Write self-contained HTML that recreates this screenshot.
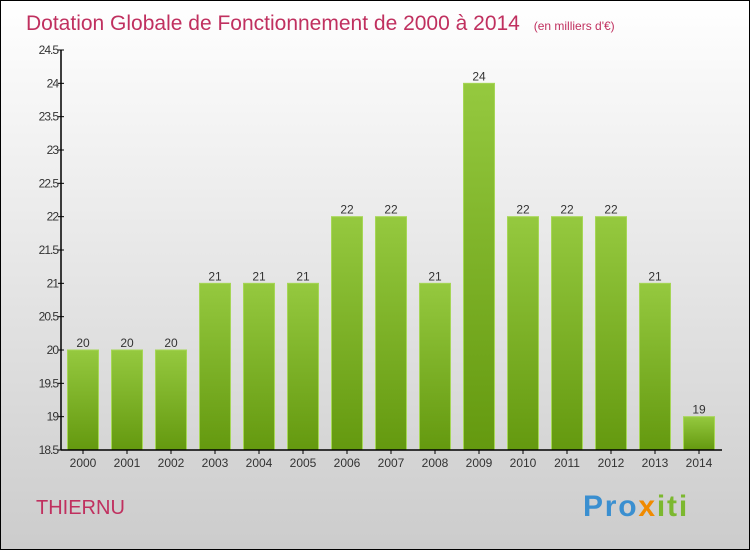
<!DOCTYPE html>
<html><head><meta charset="utf-8"><style>
html,body{margin:0;padding:0}
svg{display:block;font-family:"Liberation Sans",sans-serif}
</style></head><body>
<svg id="c" width="750" height="550" xmlns="http://www.w3.org/2000/svg">
<defs>
<linearGradient id="bg" x1="0" y1="0" x2="0" y2="1"><stop offset="0" stop-color="#ffffff"/><stop offset="1" stop-color="#cccccc"/></linearGradient>
<linearGradient id="bar" x1="0" y1="0" x2="0" y2="1"><stop offset="0" stop-color="#95c93f"/><stop offset="1" stop-color="#64990f"/></linearGradient>
</defs>
<rect x="0.5" y="0.5" width="749" height="549" fill="url(#bg)" stroke="#000"/>
<text x="26" y="30" font-size="21" fill="#c0305f">Dotation Globale de Fonctionnement de 2000 à 2014 <tspan font-size="12" dx="8">(en milliers d'€)</tspan></text>
<g id="bars"></g>
<g id="axes"></g>
<text x="36" y="514" font-size="20" fill="#c0305f">THIERNU</text>
<g font-size="30" font-weight="bold">
<text x="583" y="516" fill="#3a8fd0" letter-spacing="1.8">Pro<tspan fill="#f08a00">x</tspan><tspan fill="#7cb82f">iti</tspan></text>
</g>
</svg>
<script>
const categories=["2000","2001","2002","2003","2004","2005","2006","2007","2008","2009","2010","2011","2012","2013","2014"];
const values=[20,20,20,21,21,21,22,22,21,24,22,22,22,21,19];
const labels=["20","20","20","21","21","21","22","22","21","24","22","22","22","21","19"];
const yTicks=[18.5,19,19.5,20,20.5,21,21.5,22,22.5,23,23.5,24,24.5];
const NS="http://www.w3.org/2000/svg";
const y0=450,y1=50,vmin=18.5,vmax=24.5;
function y(v){return y0-(v-vmin)/(vmax-vmin)*(y0-y1);}
function x(i){return 83+i*44;}
function mk(t,a,p){const e=document.createElementNS(NS,t);for(const k in a)e.setAttribute(k,a[k]);p.appendChild(e);return e;}
const bars=document.getElementById('bars'),axes=document.getElementById('axes');
values.forEach((v,i)=>{
 const r=mk('rect',{x:x(i)-15.5,y:y(v),width:31,height:y0-y(v),fill:'url(#bar)',stroke:'#a6d656','stroke-width':1},bars);
 
 
 const t=mk('text',{x:x(i),y:y(v)-3,'text-anchor':'middle','font-size':12,fill:'#333'},bars);
 t.textContent=labels[i];
 
 
 const xt=mk('text',{x:x(i),y:467,'text-anchor':'middle','font-size':12,fill:'#333'},axes);
 xt.textContent=categories[i];
 
 
 mk('line',{x1:x(i),x2:x(i),y1:450,y2:454,stroke:'#000'},axes);
});
yTicks.forEach(v=>{
 mk('line',{x1:58,x2:64,y1:y(v),y2:y(v),stroke:'#000'},axes);
 const t=mk('text',{x:58,y:y(v)+4,'text-anchor':'end','font-size':12,fill:'#333','letter-spacing':'-1'},axes);
 t.textContent=String(v);
 
 
});
const ya=mk('line',{x1:61,x2:61,y1:50,y2:450,stroke:'#000','stroke-width':1.5},axes);


const xa=mk('line',{x1:61,x2:722,y1:450,y2:450,stroke:'#000','stroke-width':1.5},axes);


</script>
</body></html>
